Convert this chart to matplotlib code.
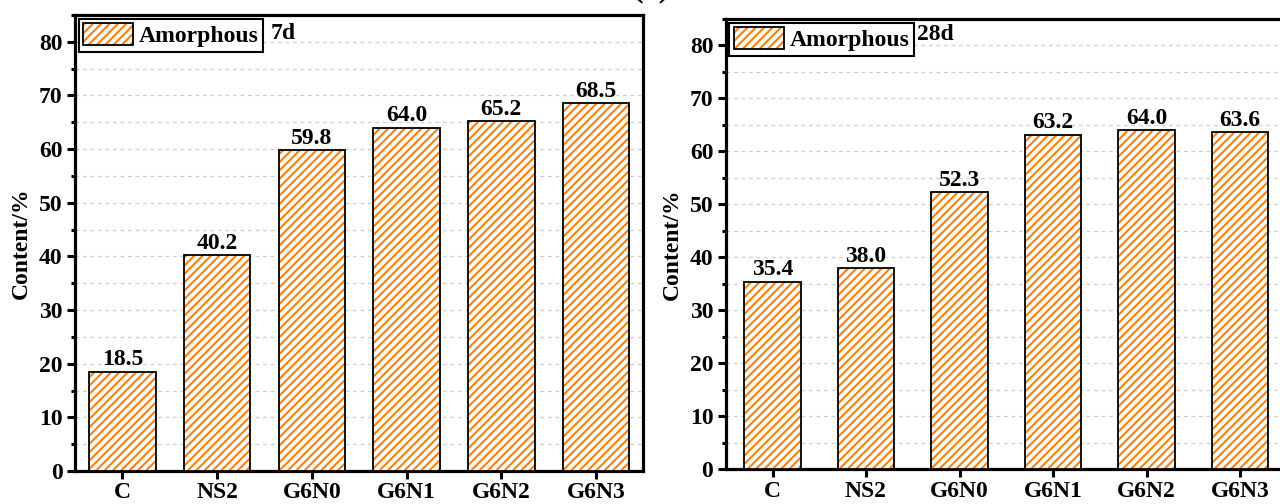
import matplotlib
matplotlib.use("Agg")
import matplotlib.pyplot as plt
from matplotlib.patches import Patch
from matplotlib.legend_handler import HandlerBase
from matplotlib.patches import Rectangle
from matplotlib.ticker import MultipleLocator

# Sample groups and amorphous phase content (%)
samples = ["C", "NS2", "G6N0", "G6N1", "G6N2", "G6N3"]
content_7d = [18.5, 40.2, 59.8, 64.0, 65.2, 68.5]
content_28d = [35.4, 38.0, 52.3, 63.2, 64.0, 63.6]
ages = ["7d", "28d"]
series_name = "Amorphous"

HATCH_COLOR = "#ff7f0e"
HATCH = "////"

plt.rcParams["font.family"] = ["Liberation Serif", "DejaVu Serif"]
plt.rcParams["font.weight"] = "bold"
plt.rcParams["hatch.linewidth"] = 1.5


class HatchedBoxHandler(HandlerBase):
    """Legend key: orange hatching inside a black outline."""

    def create_artists(self, legend, orig_handle, xdescent, ydescent,
                       width, height, fontsize, trans):
        fill = Rectangle((-xdescent, -ydescent), width, height,
                         facecolor="white", edgecolor=HATCH_COLOR,
                         hatch=HATCH, linewidth=0, transform=trans)
        edge = Rectangle((-xdescent, -ydescent), width, height,
                         facecolor="none", edgecolor="black",
                         linewidth=1.3, transform=trans)
        return [fill, edge]


fig = plt.figure(figsize=(12.8, 5.04), dpi=100)

panels = [
    dict(rect=[0.0586, 0.0655, 0.4441, 0.9048], data=content_7d, width=0.70,
         age=ages[0], age_x=0.344, age_y=0.960),
    dict(rect=[0.5670, 0.0685, 0.4383, 0.8938], data=content_28d, width=0.60,
         age=ages[1], age_x=0.341, age_y=0.965),
]

x = list(range(len(samples)))
for p in panels:
    ax = fig.add_axes(p["rect"])
    ax.bar(x, p["data"], width=p["width"], color="white",
           edgecolor=HATCH_COLOR, linewidth=0, hatch=HATCH, zorder=3)
    bars = ax.bar(x, p["data"], width=p["width"], color="none",
                  edgecolor="black", linewidth=1.3, zorder=4)
    ax.bar_label(bars, labels=[f"{v:.1f}" for v in p["data"]], padding=1,
                 fontsize=17, fontweight="bold")
    ax.set_xlim(-0.5, 5.5)
    ax.set_ylim(0, 85)
    ax.set_xticks(x)
    ax.set_xticklabels(samples, fontsize=17, fontweight="bold")
    ax.yaxis.set_major_locator(MultipleLocator(10))
    ax.yaxis.set_minor_locator(MultipleLocator(5))
    ax.tick_params(axis="both", which="major", direction="out", length=6,
                   width=2.2, labelsize=17, pad=3)
    ax.tick_params(axis="x", which="major", pad=2)
    ax.tick_params(axis="y", which="minor", direction="out", length=3, width=2.2)
    for lab in ax.get_yticklabels():
        lab.set_fontweight("bold")
    ax.grid(axis="y", which="both", linestyle=(0, (3, 3)), color="#cfcfcf",
            linewidth=0.9, zorder=0)
    for s in ax.spines.values():
        s.set_linewidth(2.3)
    ax.set_ylabel("Content/%", fontsize=17, fontweight="bold", labelpad=5)
    leg = ax.legend([Patch()], [series_name], loc="upper left", fontsize=17,
                    handler_map={Patch: HatchedBoxHandler()},
                    frameon=True, fancybox=False, edgecolor="black",
                    framealpha=1, borderaxespad=0.15, borderpad=0.2,
                    handlelength=2.1, handleheight=1.05, handletextpad=0.25)
    leg.get_frame().set_linewidth(1.5)
    for t in leg.get_texts():
        t.set_fontweight("bold")
    ax.text(p["age_x"], p["age_y"], p["age"], transform=ax.transAxes,
            fontsize=17, fontweight="bold", va="center", ha="left")

fig.text(0.509, 1.0 + 4 / 504, "(a)", fontsize=23, fontweight="bold",
         ha="center", va="baseline")

fig.savefig("out.png", dpi=100)
